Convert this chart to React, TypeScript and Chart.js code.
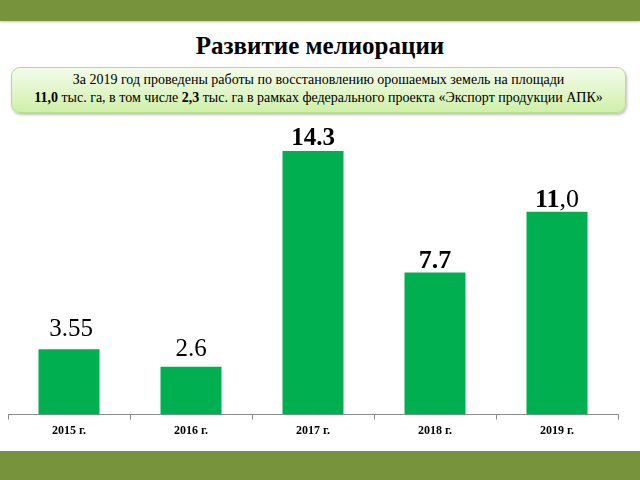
import React, { useEffect, useRef } from "react";
import { Chart, registerables } from "chart.js";

Chart.register(...registerables);

const categories = ["2015 г.", "2016 г.", "2017 г.", "2018 г.", "2019 г."];
const values = [3.55, 2.6, 14.3, 7.7, 11.0];
const valueLabels = ["3.55", "2.6", "14.3", "7.7", "11,0"];
const labelBold = [false, false, true, true, true];

const SERIF = '"Liberation Serif", "Times New Roman", serif';
const labelGap = [13, 11, 6, 5, 5];
const labelSize = [25, 25, 25, 26, 26];

const valueLabelPlugin = {
  id: "valueLabels",
  afterDatasetsDraw(chart: any) {
    const ctx = chart.ctx;
    const meta = chart.getDatasetMeta(0);
    ctx.save();
    ctx.fillStyle = "#000";
    ctx.textBaseline = "alphabetic";
    meta.data.forEach((bar: any, i: number) => {
      const text = valueLabels[i];
      const size = labelSize[i];
      const y = bar.y - labelGap[i];
      const x = bar.x + (i === 0 ? 2 : 0);
      const commaIdx = text.indexOf(",");
      if (commaIdx >= 0) {
        const a = text.slice(0, commaIdx);
        const b = text.slice(commaIdx);
        ctx.font = `bold ${size}px ${SERIF}`;
        const wa = ctx.measureText(a).width;
        ctx.font = `${size}px ${SERIF}`;
        const wb = ctx.measureText(b).width;
        const start = x - (wa + wb) / 2;
        ctx.textAlign = "left";
        ctx.font = `bold ${size}px ${SERIF}`;
        ctx.fillText(a, start, y);
        ctx.font = `${size}px ${SERIF}`;
        ctx.fillText(b, start + wa, y);
      } else {
        ctx.textAlign = "center";
        ctx.font = `${labelBold[i] ? "bold " : ""}${size}px ${SERIF}`;
        ctx.fillText(text, x, y);
      }
    });
    ctx.restore();
  },
};

export default function App() {
  const ref = useRef<HTMLCanvasElement | null>(null);

  useEffect(() => {
    if (!ref.current) return;
    const chart = new Chart(ref.current, {
      type: "bar",
      data: {
        labels: categories,
        datasets: [
          {
            data: values,
            backgroundColor: "#00B050",
            borderWidth: 0,
            categoryPercentage: 1,
            barPercentage: 0.5,
          },
        ],
      },
      options: {
        responsive: false,
        animation: false,
        layout: { padding: { left: 8, right: 22, top: 18, bottom: 8 } },
        plugins: {
          legend: { display: false },
          tooltip: { enabled: false },
          title: { display: false },
        },
        scales: {
          y: { display: false, min: 0, max: 15 },
          x: {
            grid: {
              offset: true,
              drawOnChartArea: false,
              tickLength: 5,
              color: "#8c8c8c",
            },
            border: { display: true, color: "#8c8c8c", width: 1 },
            ticks: {
              color: "#000",
              padding: 4,
              font: { family: SERIF, size: 12, weight: "bold" },
            },
          },
        },
      },
      plugins: [valueLabelPlugin],
    });
    return () => chart.destroy();
  }, []);

  return (
    <div
      style={{
        position: "fixed",
        left: 0,
        top: 0,
        width: 640,
        height: 480,
        background: "#fff",
        overflow: "hidden",
        fontFamily: SERIF,
      }}
    >
      <div
        style={{
          position: "absolute",
          left: 0,
          top: 0,
          width: 640,
          height: 21,
          background: "#77933C",
          boxShadow: "0 1px 2px rgba(0,0,0,0.25)",
        }}
      />
      <div
        style={{
          position: "absolute",
          left: 0,
          top: 31,
          width: 640,
          textAlign: "center",
          fontWeight: "bold",
          fontSize: 25,
          lineHeight: "30px",
          color: "#000",
        }}
      >
        Развитие мелиорации
      </div>
      <div
        style={{
          position: "absolute",
          left: 11,
          top: 67,
          width: 615,
          height: 46,
          borderRadius: 9,
          border: "1px solid #b7dc8c",
          background: "linear-gradient(to bottom, #f3fbea 0%, #e2f6cb 50%, #cfefa8 100%)",
          boxShadow: "1px 2px 3px rgba(0,0,0,0.25)",
          textAlign: "center",
          fontSize: 14,
          lineHeight: "18px",
          color: "#000",
          paddingTop: 3,
          boxSizing: "border-box",
          whiteSpace: "nowrap",
        }}
      >
        За 2019 год проведены работы по восстановлению орошаемых земель на площади
        <br />
        <b>11,0</b> тыс. га, в том числе <b>2,3</b> тыс. га в рамках федерального проекта «Экспорт продукции АПК»
      </div>
      <canvas
        ref={ref}
        width={640}
        height={330}
        style={{ position: "absolute", left: 0, top: 120, width: 640, height: 330 }}
      />
      <div
        style={{
          position: "absolute",
          left: 0,
          top: 451,
          width: 640,
          height: 29,
          background: "#77933C",
        }}
      />
    </div>
  );
}
